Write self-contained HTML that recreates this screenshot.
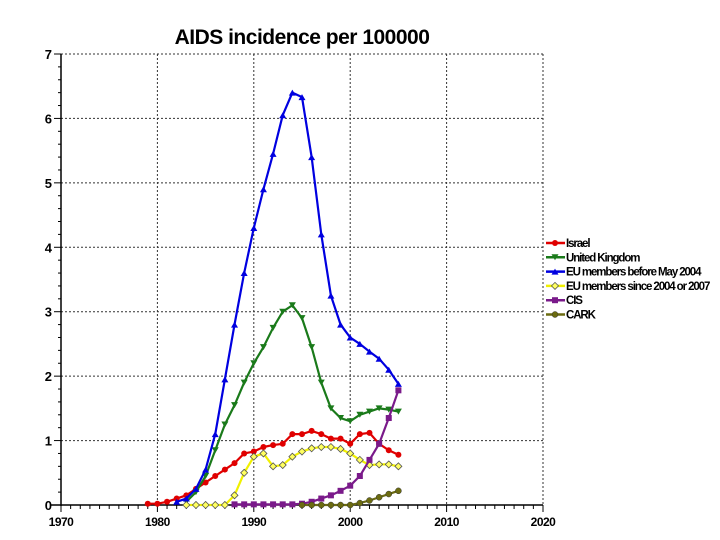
<!DOCTYPE html><html><head><style>body{margin:0;background:#fff}svg{display:block}text{font-family:"Liberation Sans",sans-serif}</style></head><body>
<svg id="s" width="720" height="540" xmlns="http://www.w3.org/2000/svg">
<text x="302" y="44" text-anchor="middle" font-size="21" font-weight="bold" letter-spacing="-0.5">AIDS incidence per 100000</text>
</svg>
<script>
const s=document.getElementById('s'),NS='http://www.w3.org/2000/svg';
function el(t,a,txt){const e=document.createElementNS(NS,t);for(const k in a)e.setAttribute(k,a[k]);if(txt!=null)e.textContent=txt;s.appendChild(e);return e;}
const X=y=>61+(y-1970)*9.64, Y=v=>505-v*64.43;
for(let i=1;i<=7;i++)el('line',{x1:61,x2:543,y1:Y(i),y2:Y(i),stroke:'#333','stroke-dasharray':'2,2','stroke-width':1});
for(let y=1980;y<=2020;y+=10)el('line',{x1:X(y),x2:X(y),y1:54,y2:505,stroke:'#333','stroke-dasharray':'2,2','stroke-width':1});
el('line',{x1:61,x2:61,y1:54,y2:506,stroke:'#000','stroke-width':1.5});
el('line',{x1:50,x2:543,y1:505,y2:505,stroke:'#000','stroke-width':1.5});
for(let i=0;i<=35;i++){let v=i/5;el('line',{x1:i%5?58:54,x2:61,y1:Y(v),y2:Y(v),stroke:'#000'});}
for(let i=0;i<=7;i++)el('text',{x:52,y:Y(i)+5,'text-anchor':'end','font-size':13,'font-weight':'bold'},i);
for(let y=1970;y<=2020;y++)el('line',{x1:X(y),x2:X(y),y1:505,y2:y%10?509:512,stroke:'#000'});
for(let y=1970;y<=2020;y+=10)el('text',{x:X(y),y:526,'text-anchor':'middle','font-size':12,'font-weight':'bold','letter-spacing':-0.5},y);
const S=[
['#e00000','c',1979,[.02,.02,.05,.1,.15,.25,.35,.45,.55,.65,.8,.83,.9,.93,.95,1.1,1.1,1.15,1.1,1.03,1.03,.95,1.1,1.12,.95,.85,.78]],
['#1a7a1a','v',1983,[.05,.2,.45,.85,1.25,1.55,1.9,2.2,2.45,2.75,3.0,3.1,2.9,2.45,1.9,1.5,1.35,1.3,1.4,1.45,1.5,1.48,1.45]],
['#0000e0','^',1982,[.05,.1,.25,.55,1.1,1.95,2.8,3.6,4.3,4.9,5.45,6.05,6.4,6.33,5.4,4.2,3.25,2.8,2.6,2.5,2.38,2.27,2.1,1.88]],
['#f0f000','d',1983,[0,0,0,0,0,.15,.5,.75,.8,.6,.62,.75,.83,.88,.9,.9,.87,.8,.7,.62,.63,.63,.6]],
['#7a1a8a','s',1988,[.01,.01,.01,.01,.01,.01,.01,.02,.05,.1,.15,.22,.3,.45,.7,.95,1.35,1.78]],
['#6b6b10','o',1995,[0,0,0,0,0,0,.03,.07,.12,.17,.22]]];
function mk(c,t,x,y){
 if(t=='c')el('circle',{cx:x,cy:y,r:3,fill:c});
 else if(t=='v')el('polygon',{points:`${x-3.5},${y-3} ${x+3.5},${y-3} ${x},${y+3}`,fill:c});
 else if(t=='^')el('polygon',{points:`${x-3.5},${y+3} ${x+3.5},${y+3} ${x},${y-3}`,fill:c});
 else if(t=='d')el('polygon',{points:`${x-3.5},${y} ${x},${y-3.5} ${x+3.5},${y} ${x},${y+3.5}`,fill:'#ffff60',stroke:'#555','stroke-width':.8});
 else if(t=='s')el('rect',{x:x-3,y:y-3,width:6,height:6,fill:c});
 else el('circle',{cx:x,cy:y,r:3,fill:c,stroke:'#333','stroke-width':.5});
}
for(const [c,t,y0,d] of S){
 el('polyline',{points:d.map((v,i)=>X(y0+i)+','+Y(v)).join(' '),fill:'none',stroke:c,'stroke-width':2.2,'stroke-linejoin':'round'});
 d.forEach((v,i)=>mk(c,t,X(y0+i),Y(v)));
}
const L=['Israel','United Kingdom','EU members before May 2004','EU members since 2004 or 2007','CIS','CARK'];
L.forEach((n,i)=>{const y=243+i*14.3,[c,t]=S[i];el('line',{x1:546,x2:565,y1:y,y2:y,stroke:c,'stroke-width':2.5});mk(c,t,555,y);
 el('text',{x:566,y:y+4,'font-size':11.5,'font-weight':'bold','letter-spacing':-1.1},n);});
</script>
</body></html>
